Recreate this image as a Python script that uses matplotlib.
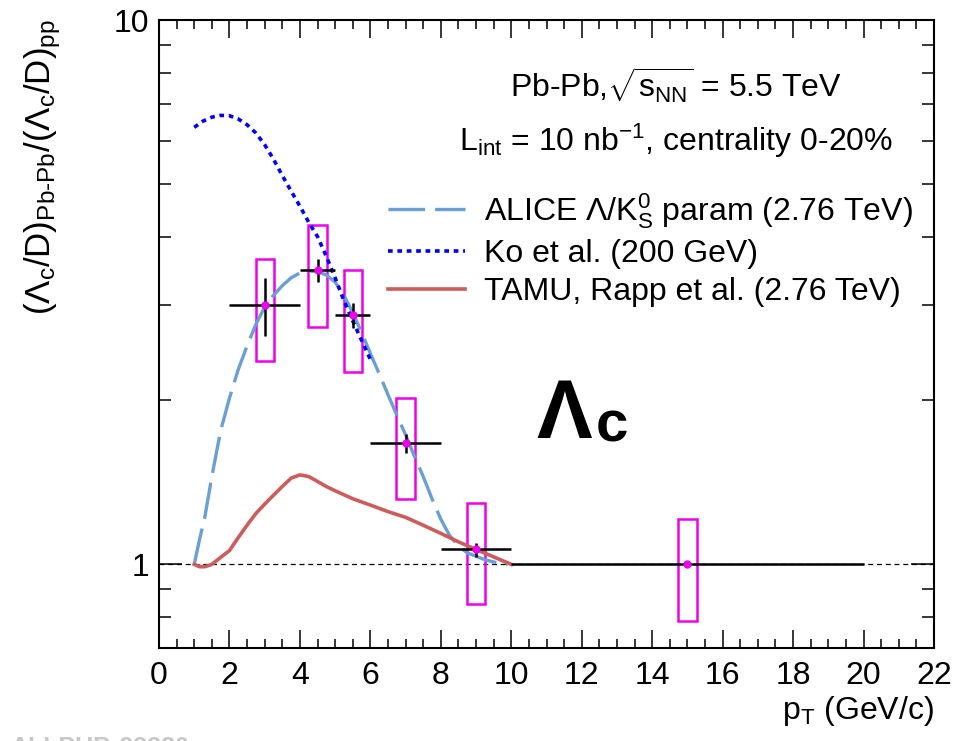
import matplotlib
matplotlib.use('Agg')
import matplotlib.pyplot as plt
from matplotlib.patches import Rectangle
from matplotlib.ticker import MultipleLocator, LogLocator, NullFormatter, FixedLocator, FixedFormatter

plt.rcParams['font.family'] = ['Liberation Sans', 'DejaVu Sans']
plt.rcParams['mathtext.fontset'] = 'custom'
plt.rcParams['mathtext.rm'] = 'Liberation Sans'
plt.rcParams['mathtext.it'] = 'Liberation Sans:italic'
plt.rcParams['mathtext.bf'] = 'Liberation Sans:bold'

# data points (Lambda_c/D double ratio)
pt = [3.0, 4.5, 5.5, 7.0, 9.0, 15.0]
pt_lo = [2.0, 4.0, 5.0, 6.0, 8.0, 10.0]
pt_hi = [4.0, 5.0, 6.0, 8.0, 10.0, 20.0]
ratio = [3.0, 3.47, 2.87, 1.67, 1.067, 1.0]
stat_lo = [2.63, 3.30, 2.72, 1.60, 1.033, 1.0]
stat_hi = [3.36, 3.64, 3.02, 1.733, 1.093, 1.0]
syst_lo = [2.36, 2.73, 2.26, 1.317, 0.844, 0.788]
syst_hi = [3.64, 4.21, 3.48, 2.02, 1.295, 1.21]

# model curves
alice_x = [1.0, 1.15, 1.3, 1.5, 1.75, 2.0, 2.25, 2.5, 2.75, 3.0, 3.25, 3.5, 3.75, 4.0,
           4.25, 4.5, 4.75, 5.0, 5.25, 5.5, 5.75, 6.0, 6.25, 6.5, 6.75, 7.0, 7.25, 7.5,
           7.75, 8.0, 8.25, 8.5, 8.75, 9.0, 9.25, 9.5, 9.75, 9.9]
alice_y = [1.0, 1.11, 1.22, 1.45, 1.76, 2.02, 2.28, 2.52, 2.76, 2.97, 3.12, 3.25, 3.36, 3.43,
           3.46, 3.45, 3.40, 3.30, 3.12, 2.90, 2.67, 2.44, 2.24, 2.05, 1.88, 1.73, 1.58, 1.45,
           1.32, 1.21, 1.13, 1.08, 1.05, 1.035, 1.02, 1.01, 1.003, 1.0]

ko_x = [1.0, 1.25, 1.5, 1.75, 2.0, 2.25, 2.5, 2.75, 3.0, 3.25, 3.5, 3.75, 4.0, 4.25,
        4.5, 4.75, 5.0, 5.25, 5.5, 5.75, 6.0]
ko_y = [6.35, 6.52, 6.63, 6.68, 6.67, 6.58, 6.42, 6.20, 5.90, 5.55, 5.18, 4.85, 4.55, 4.25,
        4.0, 3.68, 3.36, 3.05, 2.80, 2.58, 2.38]

tamu_x = [1.0, 1.15, 1.3, 1.5, 1.75, 2.0, 2.25, 2.5, 2.75, 3.0, 3.25, 3.5, 3.75, 4.0,
          4.25, 4.5, 4.75, 5.0, 5.5, 6.0, 6.5, 7.0, 7.5, 8.0, 8.5, 9.0, 9.5, 10.0]
tamu_y = [1.0, 0.99, 0.99, 1.0, 1.03, 1.06, 1.12, 1.18, 1.24, 1.29, 1.34, 1.39, 1.44, 1.46,
          1.45, 1.42, 1.39, 1.365, 1.32, 1.285, 1.25, 1.22, 1.18, 1.14, 1.10, 1.065, 1.032, 1.0]

box_w = 0.52

W, H = 957, 741
fig = plt.figure(figsize=(W / 100, H / 100), dpi=100)
ax = fig.add_axes([159 / W, 1 - 648 / H, (934 - 159) / W, (648 - 20) / H])

ax.axhline(1.0, color='k', lw=0.9, ls=(0, (4, 3)), zorder=1)

for x, lo, hi in zip(pt, syst_lo, syst_hi):
    ax.add_patch(Rectangle((x - box_w / 2, lo), box_w, hi - lo, fill=False,
                           edgecolor='#ee00ee', lw=1.8, zorder=3))

ax.plot(alice_x, alice_y, color='#6a9fd4', lw=2.4, ls=(0, (11, 3)), zorder=4,
        label=r'ALICE Λ/$\mathrm{K^0_S}$ param (2.76 TeV)')
ax.plot(ko_x, ko_y, color='#0000ff', lw=2.6, ls=(0, (1.3, 1.3)), zorder=4,
        label='Ko et al. (200 GeV)')
ax.plot(tamu_x, tamu_y, color='#cd5c5c', lw=2.6, zorder=4,
        label='TAMU, Rapp et al. (2.76 TeV)')

xerr = [[p - l for p, l in zip(pt, pt_lo)], [h - p for p, h in zip(pt, pt_hi)]]
yerr = [[r - l for r, l in zip(ratio, stat_lo)], [h - r for r, h in zip(ratio, stat_hi)]]
ax.errorbar(pt, ratio, xerr=xerr, yerr=yerr, fmt='none', ecolor='k', elinewidth=1.8,
            capsize=0, zorder=5)
ax.plot(pt, ratio, 'o', color='#ee00ee', ms=5, zorder=6)

ax.set_yscale('log')
ax.set_xlim(0, 22)
ax.set_ylim(0.702, 10)
ax.xaxis.set_major_locator(MultipleLocator(2))
ax.xaxis.set_minor_locator(MultipleLocator(0.5))
ax.yaxis.set_major_locator(FixedLocator([1, 10]))
ax.yaxis.set_major_formatter(FixedFormatter(['1', '10']))
ax.yaxis.set_minor_locator(LogLocator(subs=range(2, 10)))
ax.yaxis.set_minor_formatter(NullFormatter())

ax.tick_params(which='both', direction='in', top=True, right=True, width=1.1,
               labelsize=23, colors='k')
ax.tick_params(axis='x', which='major', length=13, pad=9)
ax.tick_params(axis='x', which='minor', length=6.5)
ax.tick_params(axis='y', which='major', length=16.5, pad=7)
ax.tick_params(axis='y', which='minor', length=8.6)
for s in ax.spines.values():
    s.set_linewidth(1.5)

ax.set_xlabel(r'$\mathrm{p_T}$ (GeV/c)', fontsize=23, loc='right')
ax.xaxis.set_label_coords(1.0, -0.074)

fig.text(43 / W, 1 - 19 / H,
         r'$(\Lambda_{\mathrm{c}}/\mathrm{D})_{\mathrm{Pb}\text{-}\mathrm{Pb}}/(\Lambda_{\mathrm{c}}/\mathrm{D})_{\mathrm{pp}}$',
         rotation=90, ha='center', va='top', fontsize=25)

fig.text(676 / W, 1 - 85 / H, r'Pb-Pb,$\sqrt{\mathrm{s_{NN}}}$ = 5.5 TeV',
         ha='center', va='center', fontsize=23)
fig.text(676 / W, 1 - 141 / H, r'$\mathrm{L_{int}}$ = 10 nb$^{-1}$, centrality 0-20%',
         ha='center', va='center', fontsize=23)

fig.text(536 / W, 1 - 438 / H, 'Λ', fontsize=60, fontweight='bold', ha='left', va='baseline')
fig.text(596 / W, 1 - 442 / H, 'c', fontsize=42, fontweight='bold', ha='left', va='baseline')

leg = ax.legend(loc='upper left', bbox_to_anchor=(388 / W, 1 - 191 / H),
                bbox_transform=fig.transFigure, frameon=False, fontsize=23,
                handlelength=2.4, handletextpad=0.6, labelspacing=0.25,
                borderpad=0, borderaxespad=0)

fig.text(10 / W, 1 - 736 / H, 'ALI-PUB-93380', color='#c8c8c8', fontsize=18,
         fontweight='bold', ha='left', va='top')

fig.savefig('out.png', dpi=100)
